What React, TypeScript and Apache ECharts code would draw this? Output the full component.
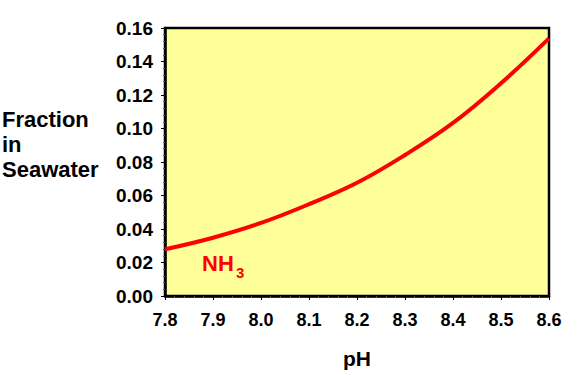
import React, { useEffect, useRef } from "react";
import * as echarts from "echarts";

const pH = [7.8, 7.9, 8.0, 8.1, 8.2, 8.3, 8.4, 8.5, 8.6];
const nh3Fraction = [0.0279, 0.0348, 0.0436, 0.0548, 0.0676, 0.0842, 0.1033, 0.127, 0.1538];
const yTitleLines = ["Fraction", "in", "Seawater"];
const xTitle = "pH";
const seriesLabel = "NH";
const seriesSub = "3";

export default function App() {
  const ref = useRef<HTMLDivElement>(null);
  useEffect(() => {
    document.body.style.margin = "0";
    const chart = echarts.init(ref.current!, null, { renderer: "svg" });
    const font = "'Liberation Sans', Arial, sans-serif";
    chart.setOption({
      animation: false,
      grid: {
        left: 165,
        top: 28,
        right: 31,
        bottom: 80,
        show: true,
        backgroundColor: "#FFFF99",
        borderColor: "#000",
        borderWidth: 2.5,
      },
      xAxis: {
        type: "value",
        min: 7.8,
        max: 8.6,
        interval: 0.1,
        axisLine: { show: true, lineStyle: { color: "#000", width: 2.5 } },
        axisTick: { show: true, length: 4, lineStyle: { color: "#000" } },
        minorTick: { show: true, splitNumber: 5, length: 2, lineStyle: { color: "#555" } },
        splitLine: { show: false },
        axisLabel: {
          margin: 15,
          color: "#000",
          fontSize: 18,
          fontWeight: "bold",
          fontFamily: font,
          formatter: (v: number) => v.toFixed(1),
        },
        name: xTitle,
        nameLocation: "middle",
        nameGap: 52,
        nameTextStyle: { color: "#000", fontSize: 21, fontWeight: "bold", fontFamily: font },
      },
      yAxis: {
        type: "value",
        min: 0,
        max: 0.16,
        interval: 0.02,
        axisLine: { show: true, lineStyle: { color: "#000", width: 2.5 } },
        axisTick: { show: true, length: 4, lineStyle: { color: "#000" } },
        minorTick: { show: true, splitNumber: 5, length: 2, lineStyle: { color: "#555" } },
        splitLine: { show: false },
        axisLabel: {
          margin: 12,
          color: "#000",
          fontSize: 19,
          fontWeight: "bold",
          fontFamily: font,
          formatter: (v: number) => v.toFixed(2),
        },
      },
      graphic: [
        {
          type: "text",
          left: 2,
          top: 107,
          style: {
            text: yTitleLines.join("\n"),
            fill: "#000",
            font: `bold 22px ${font}`,
            lineHeight: 25,
          },
        },
        {
          type: "text",
          left: 202,
          top: 252,
          style: {
            text: seriesLabel,
            fill: "#FF0000",
            font: `bold 22px ${font}`,
          },
        },
        {
          type: "text",
          left: 236,
          top: 265,
          style: {
            text: seriesSub,
            fill: "#FF0000",
            font: `bold 15px ${font}`,
          },
        },
      ],
      series: [
        {
          type: "line",
          data: pH.map((x, i) => [x, nh3Fraction[i]]),
          smooth: 0.4,
          showSymbol: false,
          lineStyle: { color: "#FF0000", width: 4 },
        },
      ],
    });
    return () => chart.dispose();
  }, []);
  return <div ref={ref} style={{ width: 580, height: 376 }} />;
}
